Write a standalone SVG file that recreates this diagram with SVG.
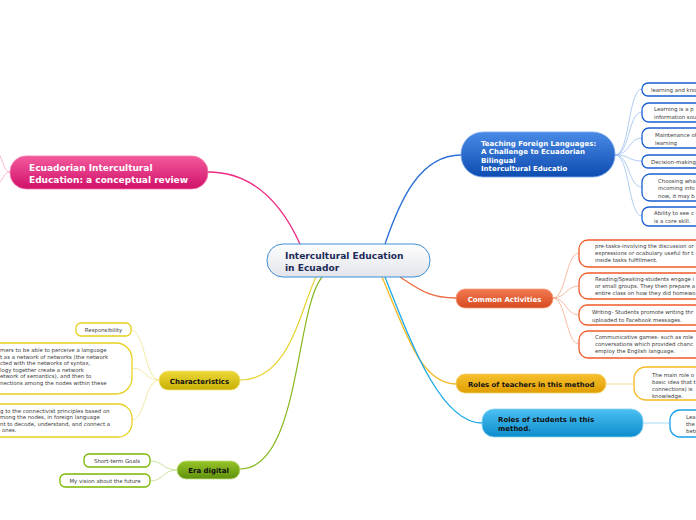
<svg xmlns="http://www.w3.org/2000/svg" width="696" height="520" viewBox="0 0 696 520">
<defs>
<linearGradient id="gC" x1="0" y1="0" x2="0" y2="1"><stop offset="0" stop-color="#ffffff"/><stop offset="1" stop-color="#e2e4ea"/></linearGradient>
<linearGradient id="gB" x1="0" y1="0" x2="0" y2="1"><stop offset="0" stop-color="#4a8ae6"/><stop offset="1" stop-color="#0d4cb0"/></linearGradient>
<linearGradient id="gP" x1="0" y1="0" x2="0" y2="1"><stop offset="0" stop-color="#f45a9c"/><stop offset="1" stop-color="#d0106a"/></linearGradient>
<linearGradient id="gO" x1="0" y1="0" x2="0" y2="1"><stop offset="0" stop-color="#f27a52"/><stop offset="1" stop-color="#d84a1e"/></linearGradient>
<linearGradient id="gT" x1="0" y1="0" x2="0" y2="1"><stop offset="0" stop-color="#f6c030"/><stop offset="1" stop-color="#e09e00"/></linearGradient>
<linearGradient id="gS" x1="0" y1="0" x2="0" y2="1"><stop offset="0" stop-color="#4cc0f2"/><stop offset="1" stop-color="#0c8ccc"/></linearGradient>
<linearGradient id="gY" x1="0" y1="0" x2="0" y2="1"><stop offset="0" stop-color="#ecd838"/><stop offset="1" stop-color="#c8b004"/></linearGradient>
<linearGradient id="gG" x1="0" y1="0" x2="0" y2="1"><stop offset="0" stop-color="#98c428"/><stop offset="1" stop-color="#5e900c"/></linearGradient>
</defs>
<style>
text{font-family:"DejaVu Sans","Liberation Sans",sans-serif;}
.sub{fill:#fff;stroke-width:1.3;}
.st{font-size:5.4px;fill:#3a3a3a;}
.wb{font-weight:bold;fill:#fff;}
.kb{font-weight:bold;fill:#111;}
.c{fill:none;}
</style>
<rect width="696" height="520" fill="#fff"/>
<g id="connectors">
<path class="c" d="M300,244 C280,200 250,172 208,172" stroke="#ee2a82" stroke-width="1.3"/>
<path class="c" d="M10,172 C4,172 3,160 -2,152" stroke="#f7a6c8" stroke-width="0.8"/>
<path class="c" d="M10,172 C4,172 3,180 -2,184" stroke="#f7a6c8" stroke-width="0.8"/>
<path class="c" d="M385,244 C400,200 420,155 461,155" stroke="#2c6fd8" stroke-width="1.3"/>
<path class="c" d="M400,277 C420,290 430,298 456,298" stroke="#f06a40" stroke-width="1.3"/>
<path class="c" d="M382,277 C405,330 420,384 456,384" stroke="#f5b820" stroke-width="1.3"/>
<path class="c" d="M385,277 C410,340 440,423 482,423" stroke="#1aa8e8" stroke-width="1.3"/>
<path class="c" d="M316,277 C300,310 290,380 240,380" stroke="#e8d430" stroke-width="1.2"/>
<path class="c" d="M322,277 C295,310 300,469 240,469" stroke="#86b820" stroke-width="1.2"/>
<g stroke="#9cc0ee" stroke-width="0.8" fill="none">
<path d="M615,155 C630,155 628,89 642,89"/>
<path d="M615,155 C630,155 628,112 642,112"/>
<path d="M615,155 C630,155 628,138 642,138"/>
<path d="M615,155 C630,155 628,161 642,161"/>
<path d="M615,155 C630,155 628,187 642,187"/>
<path d="M615,155 C630,155 628,216 642,216"/>
</g>
<g stroke="#f7a88a" stroke-width="0.8" fill="none">
<path d="M553,298 C566,298 566,253 579,253"/>
<path d="M553,298 C566,298 566,286 579,286"/>
<path d="M553,298 C566,298 566,315 579,315"/>
<path d="M553,298 C566,298 566,344 579,344"/>
</g>
<path d="M606,384 L634,384" stroke="#f8d27a" stroke-width="0.8" fill="none"/>
<path d="M643,423 L670,423" stroke="#8ccff2" stroke-width="0.8" fill="none"/>
<g stroke="#f0e48a" stroke-width="0.8" fill="none">
<path d="M159,380 C145,380 145,330 131,330"/>
<path d="M159,380 C145,380 145,368 132,368"/>
<path d="M159,380 C145,380 145,420 132,420"/>
</g>
<g stroke="#bcdc88" stroke-width="0.8" fill="none">
<path d="M177,470 C163,470 163,461 150,461"/>
<path d="M177,470 C163,470 163,481 150,481"/>
</g>
</g>
<g id="center">
<rect x="267" y="244" width="163" height="33" rx="16" fill="url(#gC)" stroke="#3c8fd6" stroke-width="1"/>
<text x="285" y="259" font-size="9.1" font-weight="bold" fill="#1c2a58">Intercultural Education</text>
<text x="285" y="270.5" font-size="9.1" font-weight="bold" fill="#1c2a58">in Ecuador</text>
</g>
<g id="ecuadorian">
<rect x="10" y="156" width="198" height="33" rx="16" fill="url(#gP)" stroke="#f47aaa" stroke-width="0.8"/>
<text x="29" y="171" font-size="9" class="wb">Ecuadorian Intercultural</text>
<text x="29" y="183" font-size="9" class="wb">Education: a conceptual review</text>
</g>
<g id="teaching">
<rect x="461" y="132" width="154" height="45" rx="22" fill="url(#gB)" stroke="#7aa8ee" stroke-width="0.8"/>
<text x="481" y="145.5" font-size="7" class="wb">Teaching Foreign Languages:</text>
<text x="481" y="154" font-size="7" class="wb">A Challenge to Ecuadorian</text>
<text x="481" y="162.5" font-size="7" class="wb">Bilingual</text>
<text x="481" y="171" font-size="7" class="wb">Intercultural Educatio</text>
</g>
<g id="t1"><rect x="642" y="83" width="120" height="13" rx="6" class="sub" stroke="#1a5fd0"/><text x="651" y="92" class="st">learning and kno</text></g>
<g id="t2"><rect x="642" y="103" width="120" height="19" rx="7" class="sub" stroke="#1a5fd0"/><text x="654" y="111" class="st">Learning is a p</text><text x="654" y="118.5" class="st">information sou</text></g>
<g id="t3"><rect x="642" y="128" width="120" height="20" rx="7" class="sub" stroke="#1a5fd0"/><text x="655" y="137" class="st">Maintenance of</text><text x="655" y="144.5" class="st">learning</text></g>
<g id="t4"><rect x="642" y="155" width="120" height="13" rx="6" class="sub" stroke="#1a5fd0"/><text x="651" y="163.5" class="st">Decision-making</text></g>
<g id="t5"><rect x="642" y="174" width="120" height="27" rx="8" class="sub" stroke="#1a5fd0"/><text x="658" y="182.5" class="st">Choosing wha</text><text x="658" y="190" class="st">incoming info</text><text x="658" y="197.5" class="st">now, it may b</text></g>
<g id="t6"><rect x="642" y="207" width="120" height="19" rx="7" class="sub" stroke="#1a5fd0"/><text x="654" y="215" class="st">Ability to see c</text><text x="654" y="222.5" class="st">is a core skill.</text></g>
<g id="common">
<rect x="456" y="289" width="97" height="19" rx="9" fill="url(#gO)" stroke="#f5a080" stroke-width="0.8"/>
<text x="504.5" y="301.5" font-size="7" class="wb" text-anchor="middle">Common Activities</text>
</g>
<g id="a1"><rect x="579" y="240" width="160" height="27" rx="9" class="sub" stroke="#f05a28"/><text x="595" y="248" class="st">pre-tasks-involving the discussion or</text><text x="595" y="255" class="st">expressions or ocabulary useful for t</text><text x="595" y="262" class="st">inside tasks fulfillment.</text></g>
<g id="a2"><rect x="579" y="273" width="160" height="26" rx="9" class="sub" stroke="#f05a28"/><text x="595" y="281" class="st">Reading/Speaking-students engage i</text><text x="595" y="288" class="st">or small groups. They then prepare a</text><text x="595" y="295" class="st">entire class on how they did homewo</text></g>
<g id="a3"><rect x="579" y="305" width="160" height="20" rx="8" class="sub" stroke="#f05a28"/><text x="592" y="314" class="st">Writing- Students promote writing thr</text><text x="592" y="321.5" class="st">uploaded to Facebook messages.</text></g>
<g id="a4"><rect x="579" y="331" width="160" height="27" rx="9" class="sub" stroke="#f05a28"/><text x="595" y="339" class="st">Communicative games- such as role</text><text x="595" y="346" class="st">conversations which provided chanc</text><text x="595" y="353" class="st">employ the English language.</text></g>
<g id="teachers">
<rect x="456" y="374" width="150" height="19" rx="9" fill="url(#gT)" stroke="#f8d070" stroke-width="0.8"/>
<text x="468" y="387" font-size="6.9" class="kb">Roles of teachers in this method</text>
</g>
<g id="tr1"><rect x="634" y="367" width="120" height="33" rx="12" class="sub" stroke="#f5b820"/><text x="652" y="377" class="st">The main role o</text><text x="652" y="384" class="st">basic idea that t</text><text x="652" y="391" class="st">connections) is</text><text x="652" y="398" class="st">knowledge.</text></g>
<g id="students">
<rect x="482" y="409" width="161" height="28" rx="12" fill="url(#gS)" stroke="#8ad4f6" stroke-width="0.8"/>
<text x="498" y="421.5" font-size="7" class="kb">Roles of students in this</text>
<text x="498" y="430.5" font-size="7" class="kb">method.</text>
</g>
<g id="sr1"><rect x="670" y="410" width="100" height="27" rx="10" class="sub" stroke="#1aa0e8"/><text x="686" y="419" class="st">Lea</text><text x="686" y="426" class="st">the</text><text x="686" y="433" class="st">betw</text></g>
<g id="characteristics">
<rect x="159" y="371" width="81" height="19" rx="9" fill="url(#gY)" stroke="#f2e680" stroke-width="0.8"/>
<text x="199.5" y="384" font-size="7" class="kb" text-anchor="middle">Characteristics</text>
</g>
<g id="c1"><rect x="76" y="323" width="55" height="13" rx="5" class="sub" stroke="#e8d020"/><text x="103.5" y="332" class="st" text-anchor="middle">Responsibility</text></g>
<g id="c2"><rect x="-30" y="343" width="162" height="51" rx="16" class="sub" stroke="#e8d020"/>
<text x="0" y="352" class="st">rners to be able to perceive a language</text>
<text x="0" y="358.5" class="st">t as a network of networks (the network</text>
<text x="0" y="365" class="st">cted with the networks of syntax,</text>
<text x="0" y="371.5" class="st">logy together create a network</text>
<text x="0" y="378" class="st">etwork of semantics), and then to</text>
<text x="0" y="384.5" class="st">nections among the nodes within these</text></g>
<g id="c3"><rect x="-30" y="404" width="162" height="33" rx="14" class="sub" stroke="#e8d020"/>
<text x="0" y="412.5" class="st">g to the connectivist principles based on</text>
<text x="0" y="419" class="st">mong the nodes, in foreign language</text>
<text x="0" y="425.5" class="st">nt to decode, understand, and connect a</text>
<text x="2" y="432" class="st">ones.</text></g>
<g id="era">
<rect x="177" y="461" width="63" height="18" rx="9" fill="url(#gG)" stroke="#c0e080" stroke-width="0.8"/>
<text x="208.5" y="473" font-size="7" class="kb" text-anchor="middle">Era digital</text>
</g>
<g id="e1"><rect x="84" y="454" width="66" height="13" rx="5" class="sub" stroke="#7ab800"/><text x="117" y="463" class="st" text-anchor="middle">Short-term Goals</text></g>
<g id="e2"><rect x="60" y="474" width="90" height="13" rx="5" class="sub" stroke="#7ab800"/><text x="105" y="483" class="st" text-anchor="middle">My vision about the future</text></g>
</svg>
